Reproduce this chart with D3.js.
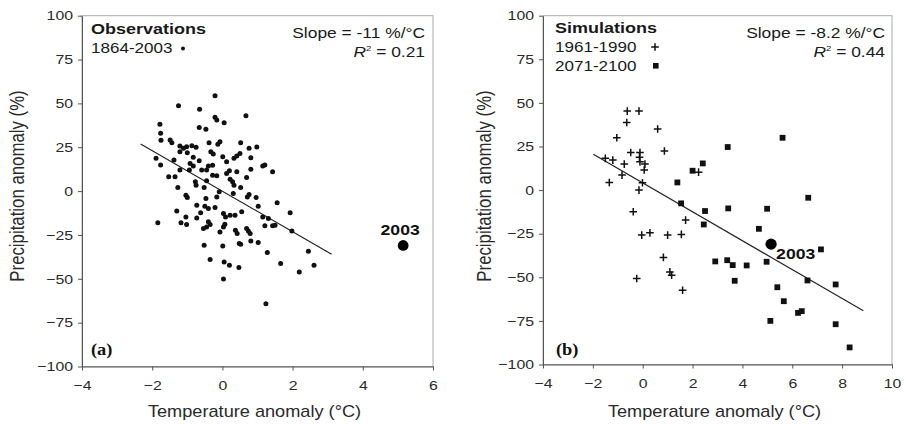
<!DOCTYPE html>
<html>
<head>
<meta charset="utf-8">
<script src="https://cdn.jsdelivr.net/npm/d3@7"></script>
<style>
  body { margin: 0; background: #fff; }
  svg { display: block; }
  text { font-family: "Liberation Sans", Arial, sans-serif; }
</style>
</head>
<body>
<div id="chart"></div>
<script>
// observations 1864-2003: [temperature anomaly, precipitation anomaly]
var obsPoints = [
  [-0.21,54.3],[-1.25,48.7],[-0.65,46.7],[0.67,43.0],[-0.21,42.1],[-0.16,40.6],[0.05,38.9],[-1.78,38.1],[-0.66,36.2],[-0.47,35.3],
  [-1.76,33.0],[-1.75,29.0],[-1.49,29.1],[-1.44,27.6],[-1.21,25.7],[-1.11,24.4],[-1.02,25.3],[-0.87,25.9],[-0.75,25.0],[-0.38,27.6],
  [-0.13,26.7],[-0.07,28.2],[0.52,27.6],[0.76,24.4],[0.98,25.1],[-1.21,22.5],[-1.00,21.9],[-0.33,22.5],[-0.26,21.1],[-1.89,18.7],
  [-1.38,17.7],[-0.83,19.3],[-0.66,17.3],[0.01,19.6],[0.33,18.7],[0.41,20.0],[0.50,21.5],[0.81,19.0],[-1.76,14.9],[-0.92,15.8],
  [-0.83,14.3],[-0.40,14.3],[-0.28,14.7],[0.12,16.7],[1.15,14.3],[1.21,14.9],[1.43,11.0],[-1.53,8.2],[-1.35,8.2],[-1.21,12.0],
  [-0.94,12.0],[-0.59,12.0],[-0.45,12.0],[-0.28,9.1],[-0.16,8.7],[0.12,10.1],[0.20,11.6],[0.41,11.0],[0.69,7.8],[-1.27,2.1],
  [-0.77,5.3],[-0.75,3.4],[-0.52,2.1],[-0.45,5.9],[-0.09,-0.4],[0.22,6.7],[0.29,5.3],[0.33,3.4],[0.52,2.1],[0.81,12.4],
  [-1.04,-2.3],[-1.00,-3.6],[-0.47,-4.2],[-0.16,-3.3],[0.31,-1.3],[0.71,-3.3],[0.76,-1.9],[0.96,-3.6],[1.56,-6.7],[-0.73,-8.0],
  [-0.50,-8.6],[-0.40,-9.9],[-1.30,-11.4],[-1.04,-14.7],[-0.21,-9.3],[-0.73,-15.3],[-0.62,-12.4],[0.03,-12.7],[0.09,-14.7],[0.22,-13.7],
  [0.36,-13.7],[0.55,-11.8],[1.02,-8.6],[1.15,-14.7],[1.31,-15.6],[1.43,-19.8],[1.50,-19.4],[1.93,-12.4],[-1.84,-18.1],[-1.18,-18.1],
  [-1.02,-19.0],[-0.40,-17.5],[-0.35,-19.0],[0.03,-20.4],[0.07,-18.9],[0.37,-22.3],[0.42,-24.2],[0.69,-21.3],[0.74,-22.7],[0.79,-24.2],
  [1.21,-19.8],[-0.54,-21.3],[-0.45,-20.4],[-0.07,-23.3],[1.98,-22.7],[-0.52,-30.9],[0.01,-31.3],[0.48,-29.9],[0.52,-30.3],[0.81,-28.4],
  [1.02,-29.3],[1.28,-35.0],[2.45,-34.3],[-0.35,-39.0],[0.05,-40.4],[0.20,-42.3],[0.47,-43.6],[1.66,-41.3],[2.19,-46.1],[2.61,-42.3],
  [0.03,-50.1],[1.24,-64.2]
];
var obsFit = [[-2.33, 26.9], [3.11, -36.0]];

// simulations
var simBase = [
  [-0.62,45.3],[-0.15,45.3],[-0.64,38.8],[0.60,35.0],[-1.04,30.0],[-0.48,21.6],[-0.11,21.6],[0.87,22.4],[-1.50,18.2],[-1.20,17.2],
  [-0.11,16.2],[0.09,14.9],[-0.74,14.9],[-0.83,8.6],[0.06,11.5],[-1.34,4.4],[-0.01,4.2],[-0.15,0.0],[-0.38,-12.4],[-0.04,-25.8],
  [0.29,-24.5],[1.00,-25.8],[1.55,-25.4],[1.72,-17.2],[0.83,-38.6],[1.09,-46.9],[1.16,-48.8],[-0.24,-50.7],[1.60,-57.4],[2.24,10.3],
  [-0.13,18.9]
];
var simFuture = [
  [3.41,24.7],[5.61,30.0],[2.41,15.3],[2.00,11.1],[1.39,4.4],[1.54,-7.6],[2.50,-12.0],[2.45,-19.7],[3.43,-10.5],[4.99,-10.7],
  [6.64,-4.4],[4.66,-22.2],[7.15,-34.0],[2.91,-40.9],[3.39,-40.2],[3.61,-43.0],[4.17,-43.2],[4.97,-41.1],[3.69,-52.0],[6.61,-51.8],
  [7.74,-54.1],[5.40,-55.7],[5.66,-63.7],[6.23,-70.4],[6.38,-69.4],[5.12,-75.0],[7.74,-76.9],[8.30,-90.2]
];
var simFit = [[-1.98, 20.5], [8.85, -69.2]];

var summer2003 = [5.15, -31];
var yTicks = [-100, -75, -50, -25, 0, 25, 50, 75, 100];
var xTicksObs = [-4, -2, 0, 2, 4, 6];
var xTicksSim = [-4, -2, 0, 2, 4, 6, 8, 10];

var W = 904, H = 424;
var SX = 1.2;   // the scan is stretched sideways, so is the text

var svg = d3.select("#chart").append("svg").attr("width", W).attr("height", H)
  .style("background", "#fff");

function label(g, x, y, str, size, opts) {
  opts = opts || {};
  var t = g.append("text")
    .attr("transform", "translate(" + x + "," + y + ") scale(" + (opts.sx || SX) + ",1)")
    .attr("font-size", size)
    .attr("fill", opts.fill || "#1a1a1a")
    .attr("text-anchor", opts.anchor || "start")
    .text(str);
  if (opts.bold) t.attr("font-weight", "bold");
  if (opts.family) t.style("font-family", opts.family);
  return t;
}

function r2Label(g, x, y, value) {
  var t = g.append("text")
    .attr("transform", "translate(" + x + "," + y + ") scale(" + SX + ",1)")
    .attr("font-size", 14.5).attr("fill", "#1a1a1a").attr("text-anchor", "end");
  t.append("tspan").attr("font-style", "italic").text("R");
  t.append("tspan").attr("font-size", 8).attr("dy", -6).text("2");
  t.append("tspan").attr("dy", 6).text(" = " + value);
}

function drawPanel(p) {
  var g = svg.append("g");
  var x = d3.scaleLinear().domain(p.xDomain).range(p.xRange);
  var y = d3.scaleLinear().domain([-100, 100]).range(p.yRange);

  g.append("rect")
    .attr("x", p.xRange[0]).attr("y", p.yRange[1])
    .attr("width", p.xRange[1] - p.xRange[0]).attr("height", p.yRange[0] - p.yRange[1])
    .attr("fill", "none").attr("stroke", "#aaa").attr("stroke-width", 1);

  var xa = g.append("g").attr("transform", "translate(0," + p.yRange[0] + ")")
    .call(d3.axisBottom(x).tickValues(p.xTicks).tickSize(4).tickSizeOuter(0).tickPadding(10));
  var ya = g.append("g").attr("transform", "translate(" + p.xRange[0] + ",0)")
    .call(d3.axisLeft(y).tickValues(yTicks).tickSize(4).tickSizeOuter(0));

  [xa, ya].forEach(function(a) {
    a.select(".domain").attr("stroke", "#555");
    a.selectAll(".tick line").attr("stroke", "#555");
    a.selectAll(".tick text").attr("fill", "#2a2a2a").attr("font-size", 13.2)
      .style("font-family", "'Liberation Sans', Arial, sans-serif");
  });
  xa.selectAll(".tick text").attr("transform", "scale(" + SX + ",1)");
  ya.selectAll(".tick text").attr("x", -9 / SX).attr("transform", "scale(" + SX + ",1)");

  // axis titles
  var cx = (p.xRange[0] + p.xRange[1]) / 2;
  g.append("text")
    .attr("transform", "translate(" + (cx - 3) + ",417) scale(1.15,1)")
    .attr("text-anchor", "middle").attr("font-size", 15.8).attr("fill", "#2a2a2a")
    .text("Temperature anomaly (\u00b0C)");
  g.append("text")
    .attr("transform", "translate(" + p.yTitleX + ",186) rotate(-90) scale(1,1.15)")
    .attr("text-anchor", "middle").attr("font-size", 16.8).attr("fill", "#2a2a2a")
    .text("Precipitation anomaly (%)");

  // regression line
  g.append("path").datum(p.fit)
    .attr("d", d3.line().x(function(d) { return x(d[0]); }).y(function(d) { return y(d[1]); }))
    .attr("fill", "none").attr("stroke", "#222").attr("stroke-width", 1.2);

  return {g: g, x: x, y: y};
}

// ---- panel (a) ----
var pa = drawPanel({xDomain: [-4, 6], xRange: [82, 433], yRange: [366.5, 15.7],
  xTicks: xTicksObs, fit: obsFit, yTitleX: 24});

pa.g.selectAll("circle.obs").data(obsPoints).enter().append("circle")
  .attr("class", "obs")
  .attr("cx", function(d) { return pa.x(d[0]); })
  .attr("cy", function(d) { return pa.y(d[1]); })
  .attr("r", 2.5).attr("fill", "#111");

pa.g.append("circle").attr("cx", pa.x(summer2003[0])).attr("cy", pa.y(summer2003[1]))
  .attr("r", 5.4).attr("fill", "#000");
label(pa.g, pa.x(summer2003[0]) - 3, pa.y(summer2003[1]) - 10, "2003", 14.7, {bold: true, anchor: "middle", fill: "#111"});

label(pa.g, 91, 34, "Observations", 15, {bold: true});
label(pa.g, 91, 53, "1864-2003", 14.2);
pa.g.append("circle").attr("cx", 183).attr("cy", 48.5).attr("r", 2).attr("fill", "#111");
label(pa.g, 425, 38, "Slope = -11 %/\u00b0C", 14.5, {anchor: "end"});
r2Label(pa.g, 425, 57, "0.21");
label(pa.g, 91, 355, "(a)", 16, {bold: true, family: "'Liberation Serif', 'Times New Roman', serif", sx: 1.15, fill: "#111"});

// ---- panel (b) ----
var pb = drawPanel({xDomain: [-4, 10], xRange: [543, 892], yRange: [364.5, 15.7],
  xTicks: xTicksSim, fit: simFit, yTitleX: 491});

var cross = "M-3.8,0H3.8M0,-3.8V3.8";
pb.g.selectAll("path.base").data(simBase).enter().append("path")
  .attr("class", "base")
  .attr("transform", function(d) { return "translate(" + pb.x(d[0]) + "," + pb.y(d[1]) + ")"; })
  .attr("d", cross).attr("stroke", "#111").attr("stroke-width", 1.5).attr("fill", "none");

pb.g.selectAll("rect.future").data(simFuture).enter().append("rect")
  .attr("class", "future")
  .attr("x", function(d) { return pb.x(d[0]) - 2.9; })
  .attr("y", function(d) { return pb.y(d[1]) - 2.9; })
  .attr("width", 5.8).attr("height", 5.8).attr("fill", "#111");

pb.g.append("circle").attr("cx", pb.x(summer2003[0])).attr("cy", pb.y(summer2003[1]))
  .attr("r", 5.6).attr("fill", "#000");
label(pb.g, pb.x(summer2003[0]) + 5, pb.y(summer2003[1]) + 15, "2003", 14.7, {bold: true, fill: "#111"});

label(pb.g, 555, 33, "Simulations", 15, {bold: true});
label(pb.g, 555, 52, "1961-1990", 14.2);
pb.g.append("path").attr("transform", "translate(655,47)").attr("d", cross)
  .attr("stroke", "#111").attr("stroke-width", 1.5);
label(pb.g, 555, 71, "2071-2100", 14.2);
pb.g.append("rect").attr("x", 653).attr("y", 63).attr("width", 5.6).attr("height", 5.6).attr("fill", "#111");
label(pb.g, 885, 38, "Slope = -8.2 %/\u00b0C", 14.5, {anchor: "end"});
r2Label(pb.g, 885, 57, "0.44");
label(pb.g, 556, 355, "(b)", 16, {bold: true, family: "'Liberation Serif', 'Times New Roman', serif", sx: 1.15, fill: "#111"});
</script>
</body>
</html>
